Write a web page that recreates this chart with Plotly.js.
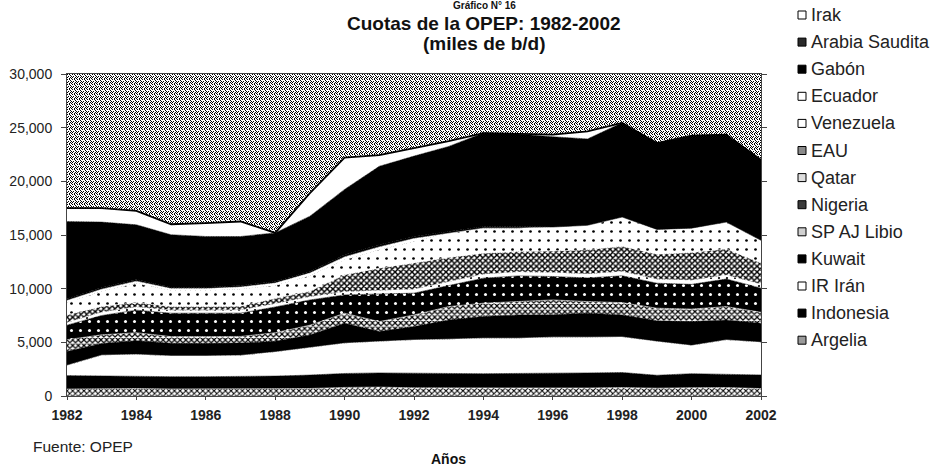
<!DOCTYPE html>
<html>
<head>
<meta charset="utf-8">
<script src="https://cdn.plot.ly/plotly-3.0.1.min.js"></script>
<style>
  html, body { margin: 0; padding: 0; background: #ffffff; }
  #chart { width: 939px; height: 466px; }
</style>
</head>
<body>
<div id="chart"></div>
<script>
// ---- Data (miles de b/d) ----
const years = [1982, 1983, 1984, 1985, 1986, 1987, 1988, 1989, 1990, 1991, 1992,
               1993, 1994, 1995, 1996, 1997, 1998, 1999, 2000, 2001, 2002];

const argelia       = [650, 700, 700, 663, 663, 650, 667, 700, 800, 830, 760, 750, 750, 750, 750, 750, 790, 730, 780, 790, 690];
const indonesia     = [1250, 1150, 1150, 1140, 1140, 1150, 1190, 1250, 1300, 1320, 1340, 1350, 1330, 1330, 1330, 1400, 1400, 1200, 1300, 1250, 1270];
const iran          = [950, 1950, 2020, 1930, 1930, 1980, 2240, 2590, 2815, 2920, 3120, 3190, 3300, 3300, 3400, 3325, 3310, 3140, 2620, 3185, 3040];
const kuwait        = [1300, 1100, 1280, 1180, 1180, 1150, 1000, 1150, 1865, 930, 1245, 1800, 2020, 2175, 2080, 2240, 2050, 1930, 2230, 1865, 1780];
const libia         = [1100, 800, 750, 620, 620, 620, 800, 910, 935, 930, 1090, 1240, 1250, 1245, 1395, 1085, 1150, 1180, 1170, 1240, 1020];
const nigeria       = [1350, 1800, 2100, 2180, 2180, 2170, 2400, 2350, 1705, 2555, 2025, 1960, 2330, 2390, 2180, 2200, 2500, 2330, 2300, 2570, 2250];
const qatar         = [250, 300, 300, 280, 280, 290, 300, 300, 300, 315, 370, 360, 370, 370, 370, 370, 400, 370, 380, 370, 350];
const eau           = [700, 550, 400, 340, 340, 350, 500, 500, 1570, 2110, 2450, 2250, 1950, 1900, 2000, 2250, 2350, 2320, 2590, 2430, 1980];
const venezuela     = [1150, 1400, 1800, 1490, 1490, 1590, 1200, 1450, 1400, 1710, 2000, 2275, 2340, 2180, 2235, 2280, 2720, 2320, 2270, 2500, 2120];
const ecuador       = [200, 200, 200, 183, 183, 200, 220, 250, 270, 270, 270, 0, 0, 0, 0, 0, 0, 0, 0, 0, 0];
const gabon         = [150, 150, 150, 137, 137, 150, 160, 160, 190, 190, 190, 175, 160, 160, 0, 0, 0, 0, 0, 0, 0];
const arabiaSaudita = [7200, 6100, 5100, 4880, 4720, 4560, 4520, 5140, 6100, 7320, 7490, 7900, 8700, 8600, 8415, 8050, 8780, 8050, 8610, 8150, 7500];
const irak          = [1250, 1300, 1300, 980, 1240, 1400, 0, 2150, 2950, 1050, 750, 500, 0, 0, 200, 700, 0, 0, 0, 0, 0];

// stacking order, bottom to top
const seriesNames = ['Argelia', 'Indonesia', 'IR Irán', 'Kuwait', 'SP AJ Libio', 'Nigeria',
                     'Qatar', 'EAU', 'Venezuela', 'Ecuador', 'Gabón', 'Arabia Saudita', 'Irak'];
const seriesValues = [argelia, indonesia, iran, kuwait, libia, nigeria,
                      qatar, eau, venezuela, ecuador, gabon, arabiaSaudita, irak];

// ---- Styles (grayscale print patterns) ----
const styles = {
  'Argelia':        { bg: '#ffffff', fg: '#000000', shape: 'x', size: 4, solidity: 0.45, key: '#9a9a9a' },
  'Indonesia':      { bg: '#000000', key: '#000000' },
  'IR Irán':        { bg: '#ffffff', key: '#ffffff' },
  'Kuwait':         { bg: '#000000', key: '#000000' },
  'SP AJ Libio':    { bg: '#ffffff', fg: '#000000', shape: 'x', size: 4, solidity: 0.5, key: '#d0d0d0' },
  'Nigeria':        { bg: '#000000', fg: '#ffffff', shape: '.', size: 9, solidity: 0.09, key: '#3a3a3a' },
  'Qatar':          { bg: '#ffffff', fg: '#000000', shape: '.', size: 8, solidity: 0.06, key: '#dddddd' },
  'EAU':            { bg: '#ffffff', fg: '#000000', shape: 'x', size: 4, solidity: 0.6, key: '#8a8a8a' },
  'Venezuela':      { bg: '#ffffff', fg: '#000000', shape: '.', size: 9, solidity: 0.07, key: '#ffffff' },
  'Ecuador':        { bg: '#ffffff', key: '#ffffff' },
  'Gabón':          { bg: '#000000', key: '#000000' },
  'Arabia Saudita': { bg: '#000000', key: '#2a2a2a' },
  'Irak':           { bg: '#ffffff', key: '#ffffff' }
};

const traces = seriesNames.map((name, i) => {
  const st = styles[name];
  const t = {
    type: 'scatter',
    mode: 'lines',
    name: name,
    x: years,
    y: seriesValues[i],
    stackgroup: 'opep',
    showlegend: false,
    line: { width: name === 'Irak' ? 1.8 : 0.5, color: name === 'Irak' ? '#000000' : st.bg },
    fillcolor: st.bg,
    hoverinfo: 'x+y+name'
  };
  if (st.shape) {
    t.fillpattern = { shape: st.shape, bgcolor: st.bg, fgcolor: st.fg, size: st.size, solidity: st.solidity };
  }
  return t;
});

// ---- Layout geometry (pixels) ----
const W = 939, H = 466, L = 67, R = 178, T = 74, B = 70;
const PW = W - L - R, PH = H - T - B;
const px = v => (v - L) / PW;          // pixel x -> paper
const py = v => (T + PH - v) / PH;     // pixel y -> paper

// dithered gray plot background (print screen look)
const dots = [[0,0],[2,0],[3,1],[1,2],[4,2],[0,3],[3,3],[2,4],[4,4]];
let tile = "<rect width='5' height='5' fill='#ffffff'/>";
dots.forEach(d => { tile += "<rect x='" + d[0] + "' y='" + d[1] + "' width='1' height='1' fill='#000000'/>"; });
const svgBg = "<svg xmlns='http://www.w3.org/2000/svg' width='" + PW + "' height='" + PH + "' shape-rendering='crispEdges'>" +
  "<defs><pattern id='p' width='5' height='5' patternUnits='userSpaceOnUse'>" + tile + "</pattern></defs>" +
  "<rect width='" + PW + "' height='" + PH + "' fill='url(#p)'/></svg>";
const bgImage = 'data:image/svg+xml;charset=utf-8,' + encodeURIComponent(svgBg);

const txt = '#222222';
const fontFam = 'Liberation Sans, Arial, sans-serif';

// manual legend (top entry = top of stack)
const legendShapes = [];
const legendNotes = [];
const legendTop = 15, legendStep = 27.1, keyX = 802;
seriesNames.slice().reverse().forEach((name, k) => {
  const yc = legendTop + k * legendStep;
  legendShapes.push({
    type: 'rect', xref: 'paper', yref: 'paper',
    x0: px(keyX - 4), x1: px(keyX + 4), y0: py(yc + 4), y1: py(yc - 4),
    fillcolor: styles[name].key, line: { color: '#000000', width: 1 }
  });
  legendNotes.push({
    text: name, xref: 'paper', yref: 'paper', x: px(keyX + 7), xanchor: 'left',
    y: py(yc), yanchor: 'middle', showarrow: false,
    font: { size: 18, color: txt, family: fontFam }
  });
});

const layout = {
  width: W,
  height: H,
  margin: { l: L, r: R, t: T, b: B, autoexpand: false },
  paper_bgcolor: '#ffffff',
  plot_bgcolor: '#a8a8a8',
  font: { family: fontFam, color: txt },
  showlegend: false,
  images: [{
    source: bgImage, xref: 'paper', yref: 'paper', x: 0, y: 1, sizex: 1, sizey: 1,
    xanchor: 'left', yanchor: 'top', sizing: 'stretch', layer: 'below'
  }],
  xaxis: {
    range: [1982, 2002], automargin: false,
    tickmode: 'linear', tick0: 1982, dtick: 2,
    ticks: 'outside', ticklen: 3, tickcolor: '#444',
    ticklabelstandoff: 3,
    showgrid: false, zeroline: false,
    showline: true, linecolor: '#444', linewidth: 1, mirror: true,
    tickfont: { size: 14, family: fontFam, color: txt, weight: 'bold' }
  },
  yaxis: {
    range: [0, 30000], automargin: false,
    tickmode: 'linear', tick0: 0, dtick: 5000,
    tickformat: ',d',
    ticks: 'outside', ticklen: 5, tickcolor: '#444',
    ticklabelstandoff: 6,
    showgrid: false, zeroline: false,
    showline: true, linecolor: '#444', linewidth: 1, mirror: 'ticks',
    tickfont: { size: 14, family: fontFam, color: txt }
  },
  shapes: legendShapes,
  annotations: [
    { text: 'Gráfico N° 16', xref: 'paper', yref: 'paper', x: px(484), y: py(5.5), yanchor: 'middle',
      showarrow: false, font: { size: 10, weight: 'bold', color: '#111' } },
    { text: 'Cuotas de la OPEP: 1982-2002', xref: 'paper', yref: 'paper', x: px(484), y: py(23.5), yanchor: 'middle',
      showarrow: false, font: { size: 19, weight: 'bold', color: '#111' } },
    { text: '(miles de b/d)', xref: 'paper', yref: 'paper', x: px(484), y: py(44), yanchor: 'middle',
      showarrow: false, font: { size: 19, weight: 'bold', color: '#111' } },
    { text: 'Fuente: OPEP', xref: 'paper', yref: 'paper', x: px(31), xanchor: 'left', y: py(446), yanchor: 'middle',
      showarrow: false, font: { size: 15.5, color: txt } },
    { text: 'Años', xref: 'paper', yref: 'paper', x: px(448), y: py(459), yanchor: 'middle',
      showarrow: false, font: { size: 14, weight: 'bold', color: '#111' } }
  ].concat(legendNotes)
};

Plotly.newPlot('chart', traces, layout, { displayModeBar: false, staticPlot: true });
</script>
</body>
</html>
